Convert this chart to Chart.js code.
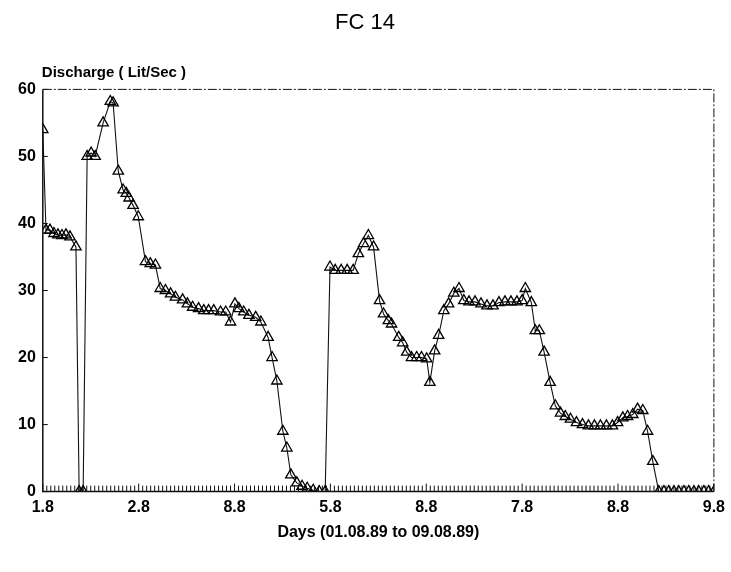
<!DOCTYPE html>
<html>
<head>
<meta charset="utf-8">
<script src="https://cdn.jsdelivr.net/npm/chart.js@4.4.1/dist/chart.umd.min.js"></script>
<style>
    body { margin: 0; background: #fff; }
    #wrap { width: 731px; height: 572px; }
</style>
</head>
<body>
<div id="wrap"><canvas id="fcChart" width="731" height="572"></canvas></div>
<script>
// Hours from the start of the record (24 per day) and discharge
const hours = [
    0, 0.8, 1.8, 2.8, 3.8, 4.8, 5.8, 6.8, 8.3, 9.1, 10.1, 11.1, 12.1, 13.1, 15.1, 16.9, 17.6,
    18.9, 20.1, 20.9, 21.6, 22.6, 23.9, 25.7, 26.9, 28.2, 29.4, 30.7, 32.0, 33.2, 35.0, 36.2,
    37.5, 39.0, 40.3, 41.5, 42.8, 44.5, 45.8, 47.0, 48.1, 49.1, 50.3, 51.6, 53.3, 54.6, 56.4,
    57.4, 58.6, 60.1, 61.1, 62.1, 63.6, 64.9, 66.2, 67.7, 69.2, 70.7, 71.9, 73.2, 74.7, 76.2,
    77.7, 79.0, 80.3, 81.5, 82.8, 84.3, 85.3, 86.5, 87.3, 89.1, 90.1, 91.1, 92.3, 93.6, 94.8,
    96.1, 96.9, 98.1, 99.1, 100.4, 101.6, 102.9, 104.2, 105.4, 106.7, 108.2, 109.7, 111.2,
    112.7, 114.2, 115.7, 117.2, 118.7, 120.0, 120.8, 122.3, 123.3, 124.3, 125.5, 127.0, 128.3,
    129.6, 130.8, 132.1, 133.6, 135.1, 136.6, 138.1, 139.6, 141.1, 142.6, 143.9, 145.2, 146.4,
    147.7, 148.9, 150.2, 151.4, 152.7, 154.2, 155.5, 156.7, 158.0, 159.2, 160.5, 161.7, 163.0,
    164.2, 165.5, 166.7, 168.0
];
const discharge = [
    54, 39, 39, 38.5, 38.3, 38.2, 38.3, 38, 36.5, 0, 0, 50, 50.5, 50, 55, 58.2, 58,
    47.8, 45, 44.5, 43.8, 42.7, 41, 34.3, 34, 33.8, 30.3, 30, 29.5, 29, 28.6, 28,
    27.5, 27.3, 27, 27, 27, 26.8, 26.8, 25.3, 28, 27.3, 26.8, 26.3, 26, 25.3, 23,
    20, 16.5, 9, 6.5, 2.5, 1.3, 0.8, 0.5, 0.2, 0, 0, 33.5, 33, 33, 33,
    33, 35.5, 37, 38.2, 36.5, 28.5, 26.5, 25.5, 25, 23, 22.2, 20.8, 20, 20, 20,
    19.8, 16.3, 21, 23.3, 27, 28, 29.6, 30.3, 28.5, 28.3, 28.3, 28, 27.7,
    27.7, 28.2, 28.3, 28.3, 28.3, 28.5, 30.3, 28.2, 24, 24, 20.8, 16.3, 12.8,
    11.7, 11.2, 10.8, 10.3, 10, 9.8, 9.8, 9.8, 9.8, 9.8, 10.3, 11, 11.2,
    11.5, 12.3, 12.1, 9, 4.5, 0, 0, 0, 0, 0, 0, 0, 0,
    0, 0, 0, 0
];
// Tick labels as printed on the original
const xTickLabels = ['1.8', '2.8', '8.8', '5.8', '8.8', '7.8', '8.8', '9.8'];
const yTicks = [0, 10, 20, 30, 40, 50, 60];

const FONT = "'Liberation Sans', Arial, sans-serif";

// Frame, inner tick marks and the y axis caption
const framePlugin = {
    id: 'frame',
    afterDraw(chart) {
        const { ctx, chartArea: a, scales } = chart;
        ctx.save();
        ctx.strokeStyle = '#111';

        // solid left and bottom
        ctx.lineWidth = 1.5;
        ctx.beginPath();
        ctx.moveTo(a.left, a.top);
        ctx.lineTo(a.left, a.bottom);
        ctx.lineTo(a.right, a.bottom);
        ctx.stroke();

        // broken top and right, like the scan
        ctx.lineWidth = 1;
        ctx.setLineDash([9, 2, 2, 2]);
        ctx.beginPath();
        ctx.moveTo(a.left, a.top);
        ctx.lineTo(a.right, a.top);
        ctx.lineTo(a.right, a.bottom);
        ctx.stroke();
        ctx.setLineDash([]);

        // hourly ticks along the bottom
        ctx.lineWidth = 1;
        for (let h = 0; h <= 168; h++) {
            const x = scales.x.getPixelForValue(h);
            const len = h % 24 === 0 ? 8 : 6;
            ctx.beginPath();
            ctx.moveTo(x, a.bottom);
            ctx.lineTo(x, a.bottom - len);
            ctx.stroke();
        }

        // small ticks inside the y axis
        yTicks.forEach(v => {
            const y = scales.y.getPixelForValue(v);
            ctx.beginPath();
            ctx.moveTo(a.left, y);
            ctx.lineTo(a.left + 5, y);
            ctx.stroke();
        });

        ctx.fillStyle = '#000';
        ctx.font = 'bold 15px ' + FONT;
        ctx.textAlign = 'left';
        ctx.textBaseline = 'middle';
        ctx.fillText('Discharge ( Lit/Sec )', a.left - 1, a.top - 17);
        ctx.restore();
    }
};

new Chart(document.getElementById('fcChart'), {
    type: 'line',
    data: {
        datasets: [{
            label: 'Discharge',
            data: hours.map((h, i) => ({ x: h, y: discharge[i] })),
            borderColor: '#111',
            borderWidth: 1.1,
            tension: 0,
            pointStyle: 'triangle',
            pointRadius: 6,
            pointBorderWidth: 1.3,
            pointBorderColor: '#000',
            pointBackgroundColor: 'rgba(255,255,255,0)'
        }]
    },
    options: {
        responsive: false,
        animation: false,
        layout: {
            padding: { left: 11, right: 12, top: 0, bottom: 30 }
        },
        plugins: {
            legend: { display: false },
            tooltip: { enabled: false },
            title: {
                display: true,
                text: 'FC 14',
                color: '#000',
                font: { family: FONT, size: 22, weight: 'normal' },
                padding: { top: 10, bottom: 53 }
            }
        },
        scales: {
            x: {
                type: 'linear',
                min: 0,
                max: 168,
                afterBuildTicks: axis => {
                    axis.ticks = xTickLabels.map((l, i) => ({ value: i * 24 }));
                },
                ticks: {
                    color: '#000',
                    font: { family: FONT, size: 16, weight: 'bold' },
                    padding: 6,
                    maxRotation: 0,
                    autoSkip: false,
                    callback: (value, index) => xTickLabels[index]
                },
                grid: { display: false, drawTicks: false },
                border: { display: false },
                title: {
                    display: true,
                    text: 'Days (01.08.89 to 09.08.89)',
                    color: '#000',
                    font: { family: FONT, size: 16, weight: 'bold' },
                    padding: { top: 0, bottom: 0 }
                }
            },
            y: {
                min: 0,
                max: 60,
                ticks: {
                    stepSize: 10,
                    color: '#000',
                    font: { family: FONT, size: 16, weight: 'bold' },
                    padding: 7
                },
                grid: { display: false, drawTicks: false },
                border: { display: false }
            }
        }
    },
    plugins: [framePlugin]
});
</script>
</body>
</html>
